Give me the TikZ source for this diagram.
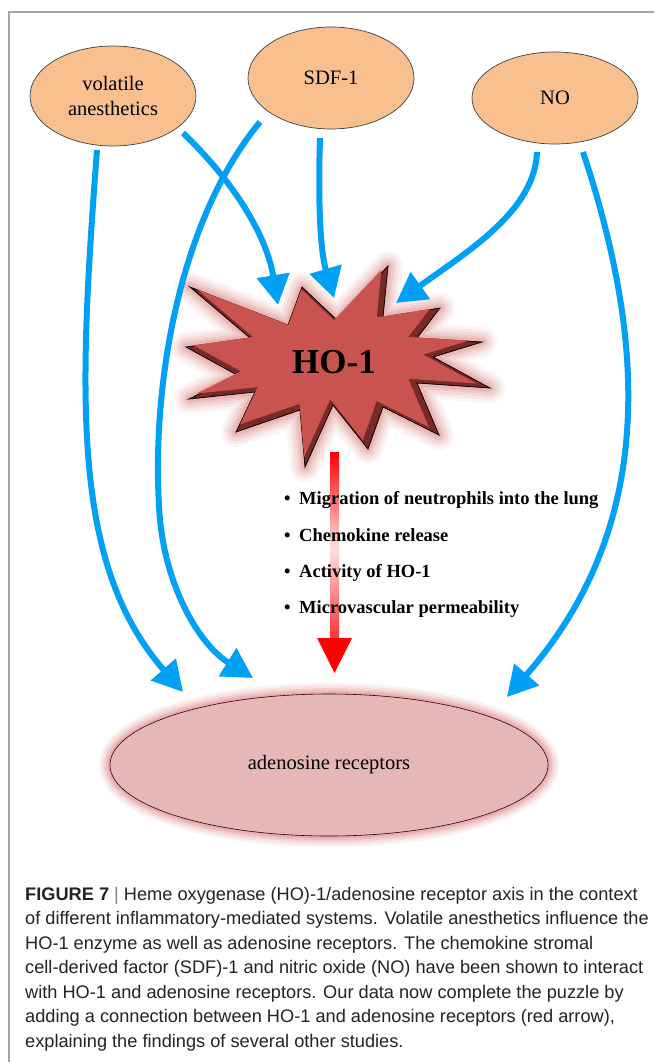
\documentclass[tikz,border=0pt]{standalone}
\usepackage{fontspec}
\setmainfont{Liberation Serif}
\newfontfamily\capfont{Liberation Sans}
\usetikzlibrary{shapes.geometric,arrows.meta}
\definecolor{orangefill}{RGB}{249,192,143}
\definecolor{bluearrow}{RGB}{0,160,245}
\definecolor{adenofill}{RGB}{229,183,183}
\definecolor{starfill}{RGB}{201,84,79}
\definecolor{stardark}{RGB}{120,42,40}
\definecolor{glowred}{RGB}{205,70,70}
\definecolor{captext}{RGB}{35,35,35}
\definecolor{framegray}{RGB}{165,165,165}
\newcommand\hostar[1]{\path[#1] (190,287) -- (288,325) -- (302,287) -- (337,320) -- (388,266) -- (383,317) -- (440,308) -- (417,338) -- (482,342) -- (433,357) -- (490,388) -- (417,383) -- (439,435) -- (383,407) -- (368,449) -- (333,405) -- (305,467) -- (300,410) -- (236,432) -- (255,392) -- (189,399) -- (237,375) -- (186,347) -- (250,338) -- cycle;}
\begin{document}
\begin{tikzpicture}[x=1pt,y=-1pt,
  srcnode/.style={ellipse, draw=black!75, line width=0.7pt, fill=orangefill, minimum width=166pt, minimum height=100pt, inner sep=0pt, align=center, font=\fontsize{20.5}{25}\selectfont},
  bluearr/.style={draw=bluearrow, line width=6pt, -{Triangle[length=30pt,width=32pt]}},
  bullettext/.style={anchor=base west, inner sep=0pt, font=\fontsize{18.5}{22}\selectfont\bfseries},
  captionline/.style={anchor=base west, inner sep=0pt, text=captext, font=\capfont\fontsize{18.2}{23}\selectfont}]
\useasboundingbox (0,0) rectangle (654,1062);
\fill[white] (0,0) rectangle (654,1062);
% frame
\draw[framegray, line width=1.2pt] (654,12) -- (9,12) -- (9,1062);

% adenosine glow
\foreach \w/\o in {22/0.07,17/0.09,12/0.11,8/0.13,4/0.16}
  \draw[glowred, line width=\w pt, opacity=\o] (329,765) ellipse [x radius=219, y radius=71];
\node[ellipse, draw=black!80!red, line width=0.6pt, fill=adenofill, minimum width=438pt, minimum height=142pt, inner sep=0pt, font=\fontsize{20.5}{24}\selectfont] (adeno) at (329,765) {adenosine receptors};

% HO-1 star glow and body
\foreach \w/\o in {30/0.05,24/0.07,18/0.09,12/0.11,7/0.13}
  {\hostar{draw=glowred, line width=\w pt, opacity=\o, line join=round}}
\hostar{fill=stardark, draw=black, line width=0.8pt}
\hostar{fill=starfill, shift={(333,362)}, scale=0.93, shift={(-336,-365)}}
\node[font=\fontsize{35}{40}\selectfont\bfseries, inner sep=0pt] (ho) at (334,362) {HO-1};

% source nodes
\node[srcnode] (vol) at (113,96) {volatile\\anesthetics};
\node[srcnode, minimum height=102pt] (sdf) at (331,78) {SDF-1};
\node[srcnode, minimum height=92pt] (no) at (555,98) {NO};

% connector end points
\coordinate (vA) at (97,150);
\coordinate (vB) at (183,133);
\coordinate (sA) at (260,122);
\coordinate (sB) at (320,138);
\coordinate (nA) at (537,152);
\coordinate (nB) at (583,152);
\coordinate (hoV) at (278,305);
\coordinate (hoS) at (334,298);
\coordinate (hoN) at (396,303);
\coordinate (adV) at (183,692);
\coordinate (adS) at (253,678);
\coordinate (adN) at (507,697);
\coordinate (redA) at (334.5,452);
\coordinate (redB) at (334.5,673);

% red arrow HO-1 -> adenosine receptors
\shade[top color=red, bottom color=red!12] ([xshift=-4.5pt]redA) rectangle ([xshift=4.5pt,yshift=-97pt]redA);
\shade[top color=red!12, bottom color=red!80] ([xshift=-4.5pt,yshift=-96pt]redA) rectangle ([xshift=4.5pt,yshift=35pt]redB);
\fill[red] ([xshift=-17.5pt,yshift=35pt]redB) -- ([xshift=17.5pt,yshift=35pt]redB) -- (redB) -- cycle;

% bullet list
\node[bullettext] (b1) at (284,504) {\makebox[15pt][l]{•}Migration of neutrophils into the lung};
\node[bullettext] (b2) at (284,541) {\makebox[15pt][l]{•}Chemokine release};
\node[bullettext] (b3) at (284,577) {\makebox[15pt][l]{•}Activity of HO-1};
\node[bullettext] (b4) at (284,613) {\makebox[15pt][l]{•}Microvascular permeability};

% blue arrows
\draw[bluearr] (vA) .. controls (78,400) and (72,565) .. (adV);
\draw[bluearr] (vB) .. controls (230,178) and (266,232) .. (hoV);
\draw[bluearr] (sA) .. controls (175,225) and (150,400) .. (160,520) .. controls (167,590) and (200,645) .. (adS);
\draw[bluearr] (sB) .. controls (318,200) and (320,250) .. (hoS);
\draw[bluearr] (nA) .. controls (535,210) and (470,250) .. (hoN);
\draw[bluearr] (nB) .. controls (642,330) and (662,520) .. (adN);

% caption
\node[captionline] (c1) at (25,900) {\textbf{FIGURE 7} {\color{gray}|} Heme oxygenase (HO)-1/adenosine receptor axis in the context};
\node[captionline] (c2) at (25,924.5) {of different inflammatory-mediated systems. Volatile anesthetics influence the};
\node[captionline] (c3) at (25,949) {HO-1 enzyme as well as adenosine receptors. The chemokine stromal};
\node[captionline] (c4) at (25,973.5) {cell-derived factor (SDF)-1 and nitric oxide (NO) have been shown to interact};
\node[captionline] (c5) at (25,998) {with HO-1 and adenosine receptors. Our data now complete the puzzle by};
\node[captionline] (c6) at (25,1022.5) {adding a connection between HO-1 and adenosine receptors (red arrow),};
\node[captionline] (c7) at (25,1047) {explaining the findings of several other studies.};
\end{tikzpicture}
\end{document}
